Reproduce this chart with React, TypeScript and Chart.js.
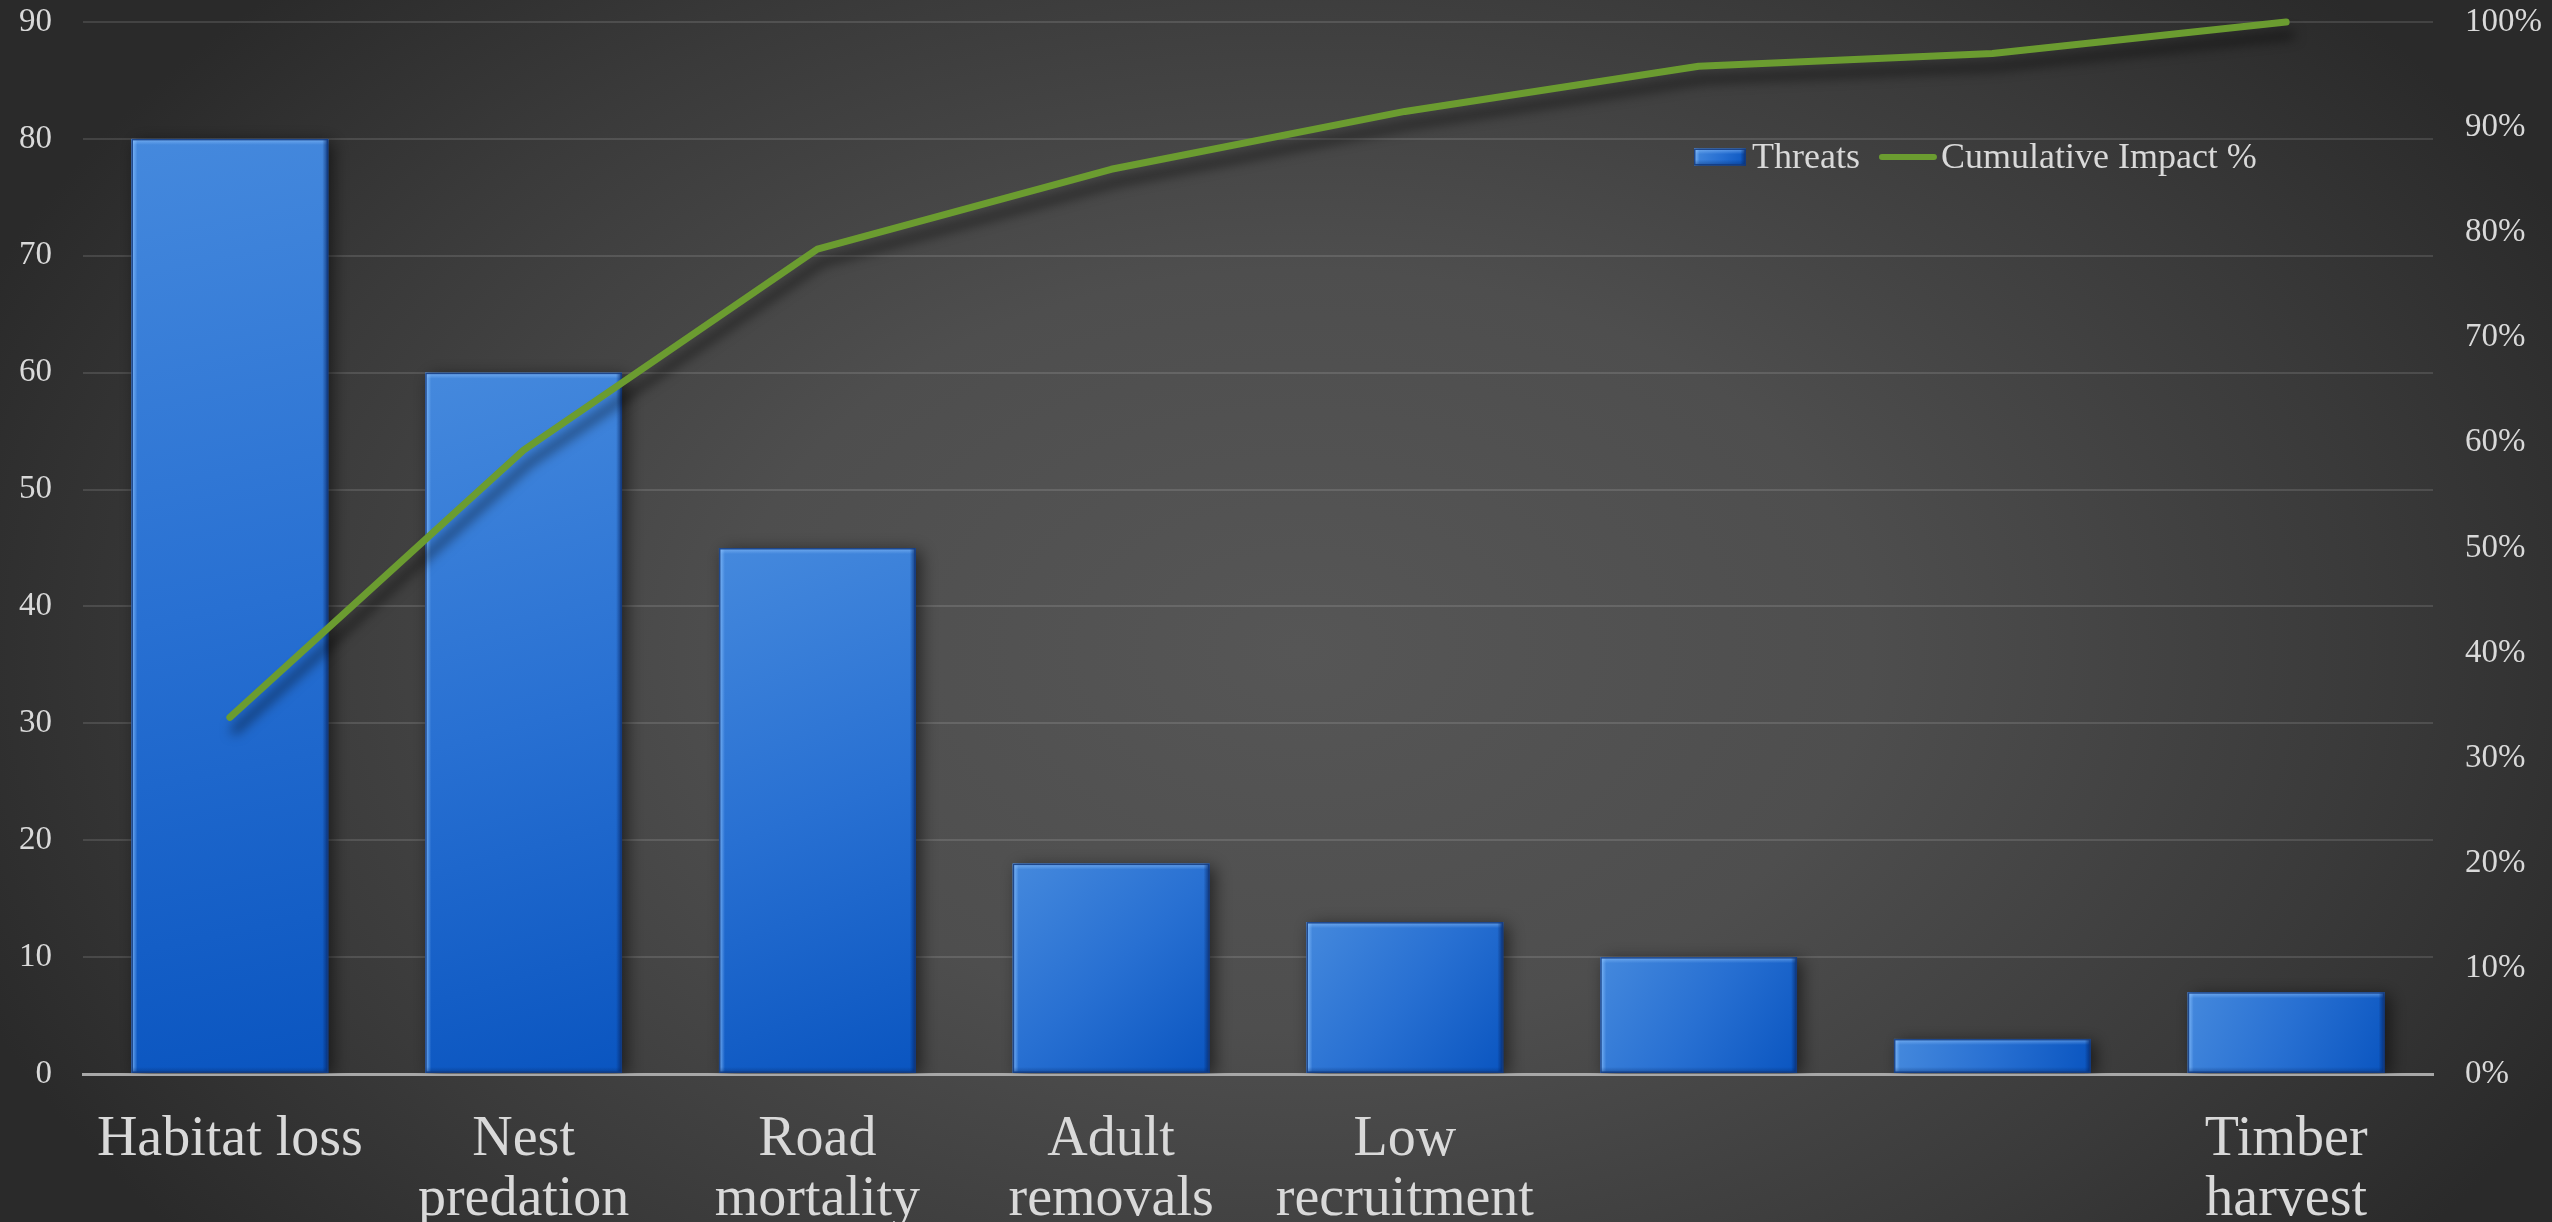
import { useEffect, useRef } from "react";
import { Chart, registerables } from "chart.js";

Chart.register(...registerables);

// Threat categories (multi-line labels are arrays)
const categories: (string | string[])[] = [
  "Habitat loss",
  ["Nest", "predation"],
  ["Road", "mortality"],
  ["Adult", "removals"],
  ["Low", "recruitment"],
  "",
  "",
  ["Timber", "harvest"],
];

// Threat scores (left axis)
const threatScores = [80, 60, 45, 18, 13, 10, 3, 7];

// Running share of total impact, in percent (right axis)
const cumulativeImpact = [33.9, 59.3, 78.4, 86.0, 91.5, 95.8, 97.0, 100];

const seriesNames = ["Threats", "Cumulative Impact %"];

const scoreAxis = { min: 0, max: 90, step: 10 };
const percentAxis = { min: 0, max: 100, step: 10 };

const SERIF = '"Liberation Serif", "Times New Roman", serif';
const TEXT = "#d9d9d9";
const GREEN = "#6b9c30";
const BAR_PCT = 0.67;
const BAR_FALLBACK = "#2a72d4";

function barGradient(ctx: CanvasRenderingContext2D, left: number, top: number, w: number, h: number) {
  if (![left, top, w, h].every(Number.isFinite) || w <= 0 || h <= 0) return BAR_FALLBACK;
  const g = ctx.createLinearGradient(left, top, left + w, top + h);
  g.addColorStop(0, "#4589dd");
  g.addColorStop(0.5, "#2870d2");
  g.addColorStop(1, "#0a55c0");
  return g;
}

// Bevelled edges drawn over a bar rectangle
function drawBevel(ctx: CanvasRenderingContext2D, left: number, top: number, w: number, h: number) {
  if (![left, top, w, h].every(Number.isFinite) || w <= 0 || h <= 0) return;
  const e = Math.min(6, h / 3, w / 3);
  ctx.save();
  let g = ctx.createLinearGradient(left, 0, left + e, 0);
  g.addColorStop(0, "rgba(140,195,255,0.85)");
  g.addColorStop(1, "rgba(140,195,255,0)");
  ctx.fillStyle = g;
  ctx.fillRect(left, top, e, h);

  g = ctx.createLinearGradient(0, top, 0, top + e);
  g.addColorStop(0, "rgba(150,200,255,0.6)");
  g.addColorStop(1, "rgba(150,200,255,0)");
  ctx.fillStyle = g;
  ctx.fillRect(left, top, w, e);

  g = ctx.createLinearGradient(left + w - e, 0, left + w, 0);
  g.addColorStop(0, "rgba(5,35,95,0)");
  g.addColorStop(1, "rgba(5,35,95,0.75)");
  ctx.fillStyle = g;
  ctx.fillRect(left + w - e, top, e, h);

  g = ctx.createLinearGradient(0, top + h - e, 0, top + h);
  g.addColorStop(0, "rgba(5,40,100,0)");
  g.addColorStop(1, "rgba(5,40,100,0.45)");
  ctx.fillStyle = g;
  ctx.fillRect(left, top + h - e, w, e);

  ctx.strokeStyle = "rgba(20,60,130,0.9)";
  ctx.lineWidth = 1.5;
  ctx.strokeRect(left + 0.75, top + 0.75, w - 1.5, h - 1.5);
  ctx.restore();
}

const backdrop = {
  id: "backdrop",
  beforeDraw(chart: Chart) {
    const { ctx, width, height } = chart;
    ctx.save();
    ctx.fillStyle = "#2a2a2a";
    ctx.fillRect(0, 0, width, height);
    ctx.translate(1300, 650);
    ctx.scale(1.5, 1);
    const g = ctx.createRadialGradient(0, 0, 0, 0, 0, 950);
    g.addColorStop(0, "#565656");
    g.addColorStop(0.4, "#4e4e4e");
    g.addColorStop(0.75, "#3a3a3a");
    g.addColorStop(1, "#2a2a2a");
    ctx.fillStyle = g;
    ctx.fillRect(-1300, -700, 2600, 1400);
    ctx.restore();
  },
};

const effects = {
  id: "effects",
  beforeDatasetDraw(chart: Chart, args: any) {
    const ctx = chart.ctx;
    ctx.save();
    const type = (chart.data.datasets[args.index] as any).type;
    if (type === "bar") {
      ctx.shadowColor = "rgba(0,0,0,0.55)";
      ctx.shadowBlur = 16;
      ctx.shadowOffsetX = 5;
      ctx.shadowOffsetY = 3;
    } else {
      ctx.shadowColor = "rgba(0,0,0,0.55)";
      ctx.shadowBlur = 12;
      ctx.shadowOffsetX = 5;
      ctx.shadowOffsetY = 13;
    }
  },
  afterDatasetDraw(chart: Chart, args: any) {
    const ctx = chart.ctx;
    ctx.restore();
    const type = (chart.data.datasets[args.index] as any).type;
    if (type !== "bar") return;
    for (const el of args.meta.data) {
      const { x, y, base, width } = (el as any).getProps(["x", "y", "base", "width"], true);
      drawBevel(ctx, x - width / 2, y, width, base - y);
    }
  },
};

const seriesKey = {
  id: "seriesKey",
  afterDraw(chart: Chart) {
    const ctx = chart.ctx;
    const cy = 157;
    let x = 1694;
    ctx.save();
    ctx.font = `36px ${SERIF}`;
    ctx.textBaseline = "middle";
    ctx.textAlign = "left";

    // bar swatch
    const bw = 52, bh = 17;
    ctx.fillStyle = barGradient(ctx, x, cy - bh / 2, bw, bh);
    ctx.fillRect(x, cy - bh / 2, bw, bh);
    drawBevel(ctx, x, cy - bh / 2, bw, bh);
    x += bw + 6;
    ctx.fillStyle = TEXT;
    ctx.fillText(seriesNames[0], x, cy + 2);
    x += ctx.measureText(seriesNames[0]).width + 19;

    // line swatch
    ctx.strokeStyle = GREEN;
    ctx.lineWidth = 6;
    ctx.lineCap = "round";
    ctx.beginPath();
    ctx.moveTo(x + 3, cy);
    ctx.lineTo(x + 55, cy);
    ctx.stroke();
    x += 62;
    ctx.fillText(seriesNames[1], x, cy + 2);
    ctx.restore();
  },
};

export default function App() {
  const ref = useRef<HTMLCanvasElement>(null);

  useEffect(() => {
    document.body.style.margin = "0";
    const canvas = ref.current;
    if (!canvas) return;

    const noEdgePadding = (s: any) => {
      s.paddingTop = 0;
      s.paddingBottom = 0;
    };

    const chart = new Chart(canvas, {
      type: "bar",
      data: {
        labels: categories,
        datasets: [
          {
            type: "line",
            label: seriesNames[1],
            data: cumulativeImpact,
            yAxisID: "y1",
            borderColor: GREEN,
            borderWidth: 7,
            borderCapStyle: "round",
            borderJoinStyle: "round",
            pointRadius: 0,
            tension: 0,
            clip: false,
            order: 0,
          } as any,
          {
            type: "bar",
            label: seriesNames[0],
            data: threatScores,
            yAxisID: "y",
            barPercentage: BAR_PCT,
            categoryPercentage: 1,
            borderWidth: 0,
            order: 1,
            backgroundColor: (c: any) => {
              const ch = c.chart;
              const xs = ch.scales && ch.scales.x;
              const ys = ch.scales && ch.scales.y;
              if (c.type !== "data" || !xs || !ys) return BAR_FALLBACK;
              const cx = xs.getPixelForValue(c.dataIndex);
              const w = ((xs.right - xs.left) / categories.length) * BAR_PCT;
              const top = ys.getPixelForValue(threatScores[c.dataIndex]);
              const bottom = ys.getPixelForValue(0);
              return barGradient(ch.ctx, cx - w / 2, top, w, bottom - top);
            },
          } as any,
        ],
      },
      options: {
        responsive: false,
        animation: false,
        layout: { padding: { top: 22, left: 0, right: 0, bottom: 0 } },
        plugins: {
          legend: { display: false },
          tooltip: { enabled: false },
        },
        scales: {
          x: {
            offset: true,
            grid: { display: false, drawTicks: false },
            border: { display: true, color: "#a8a8a8", width: 3 },
            ticks: {
              color: TEXT,
              font: { family: SERIF, size: 56, lineHeight: 1.07 },
              padding: 36,
              autoSkip: false,
              maxRotation: 0,
              minRotation: 0,
            },
            afterFit: (s: any) => {
              s.height = 148;
              s.paddingLeft = 0;
              s.paddingRight = 0;
            },
          },
          y: {
            position: "left",
            min: scoreAxis.min,
            max: scoreAxis.max,
            ticks: {
              stepSize: scoreAxis.step,
              color: TEXT,
              font: { family: SERIF, size: 33 },
              padding: 31,
            },
            grid: { color: "rgba(255,255,255,0.12)", lineWidth: 2, drawTicks: false },
            border: { display: false },
            afterFit: (s: any) => {
              s.width = 83;
              noEdgePadding(s);
            },
          },
          y1: {
            position: "right",
            min: percentAxis.min,
            max: percentAxis.max,
            ticks: {
              stepSize: percentAxis.step,
              color: TEXT,
              font: { family: SERIF, size: 33 },
              padding: 32,
              callback: (v: any) => `${v}%`,
            },
            grid: { display: false, drawTicks: false },
            border: { display: false },
            afterFit: (s: any) => {
              s.width = 119;
              noEdgePadding(s);
            },
          },
        },
      } as any,
      plugins: [backdrop, effects, seriesKey],
    });

    return () => chart.destroy();
  }, []);

  return (
    <canvas
      ref={ref}
      width={2552}
      height={1222}
      style={{ display: "block", width: "2552px", height: "1222px" }}
    />
  );
}
